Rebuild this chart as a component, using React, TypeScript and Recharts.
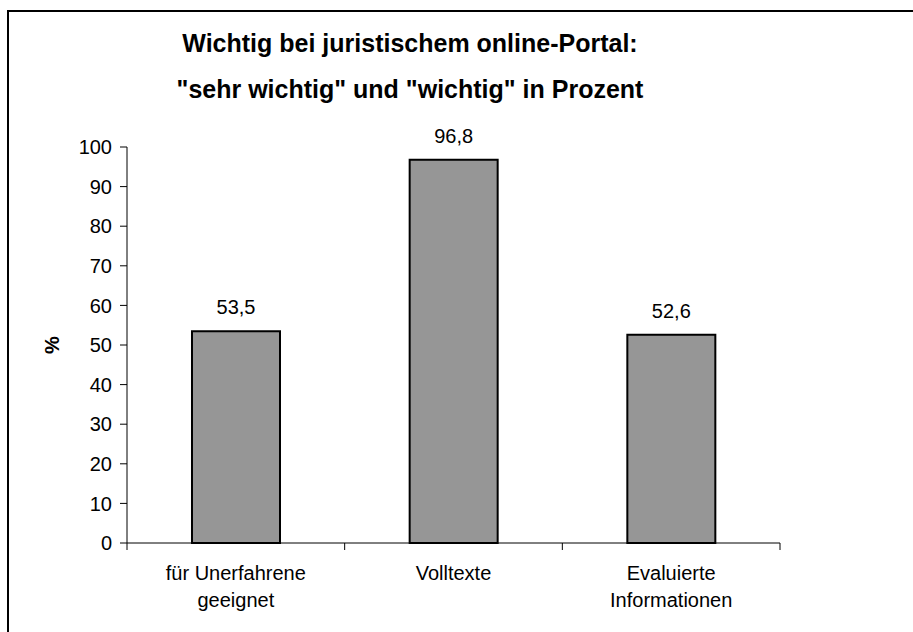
import React from "react"
import { BarChart, Bar, XAxis, YAxis, LabelList } from "recharts"

const categories = ["für Unerfahrene\ngeeignet", "Volltexte", "Evaluierte\nInformationen"]
const values = [53.5, 96.8, 52.6]
const yTicks = [0, 10, 20, 30, 40, 50, 60, 70, 80, 90, 100]
const titleLines = ["Wichtig bei juristischem online-Portal:", "\"sehr wichtig\" und \"wichtig\" in Prozent"]

const W = 913
const H = 632
const FONT = "'Liberation Sans', Arial, sans-serif"
const PLOT_W = 653
const BAND = PLOT_W / categories.length

const data = categories.map((name, i) => ({ name, value: values[i] }))

function CategoryTick(props: any) {
  const { x, y, payload, index } = props
  const lines = String(payload.value).split("\n")
  const left = x - BAND / 2
  const right = x + BAND / 2
  return (
    <g>
      {index === 0 && <line x1={left} x2={left} y1={y} y2={y + 7} stroke="#000" />}
      <line x1={right} x2={right} y1={y} y2={y + 7} stroke="#000" />
      {lines.map((l, i) => (
        <text key={i} x={x} y={y + 37 + i * 27} textAnchor="middle" fontSize={20} fill="#000" fontFamily={FONT}>
          {l}
        </text>
      ))}
    </g>
  )
}

export default function App() {
  return (
    <div style={{ position: "absolute", left: 0, top: 0, width: W, height: H, overflow: "hidden", background: "#fff", fontFamily: FONT }}>
      <div style={{ position: "absolute", left: 7, top: 10, width: 2000, height: 2000, borderLeft: "2px solid #000", borderTop: "2px solid #000" }} />
      <div style={{ position: "absolute", left: 0, top: 20, width: 820, textAlign: "center", fontSize: 25, fontWeight: "bold", lineHeight: "46px", color: "#000" }}>
        {titleLines.map((t) => (
          <div key={t}>{t}</div>
        ))}
      </div>
      <div style={{ position: "absolute", left: 52, top: 345, transform: "translate(-50%, -50%) rotate(-90deg)", fontSize: 20, fontWeight: "bold", color: "#000" }}>
        %
      </div>
      <div style={{ position: "absolute", left: 0, top: 0 }}>
        <BarChart width={W} height={H} data={data} margin={{ top: 147, right: 133, bottom: 9, left: 67 }}>
          <XAxis
            dataKey="name"
            height={80}
            axisLine={{ stroke: "#000" }}
            tickLine={false}
            tickSize={0}
            tickMargin={0}
            interval={0}
            tick={<CategoryTick />}
          />
          <YAxis
            width={60}
            domain={[0, 100]}
            ticks={yTicks}
            interval={0}
            axisLine={{ stroke: "#000" }}
            tickLine={{ stroke: "#000" }}
            tickSize={7}
            tickMargin={8}
            tick={{ fill: "#000", fontSize: 20, fontFamily: FONT }}
          />
          <Bar dataKey="value" barSize={88} fill="#969696" stroke="#000" strokeWidth={2} isAnimationActive={false}>
            <LabelList
              dataKey="value"
              position="top"
              offset={17}
              formatter={(v: any) => String(v).replace(".", ",")}
              style={{ fill: "#000", fontSize: 20, fontFamily: FONT }}
            />
          </Bar>
        </BarChart>
      </div>
    </div>
  )
}
